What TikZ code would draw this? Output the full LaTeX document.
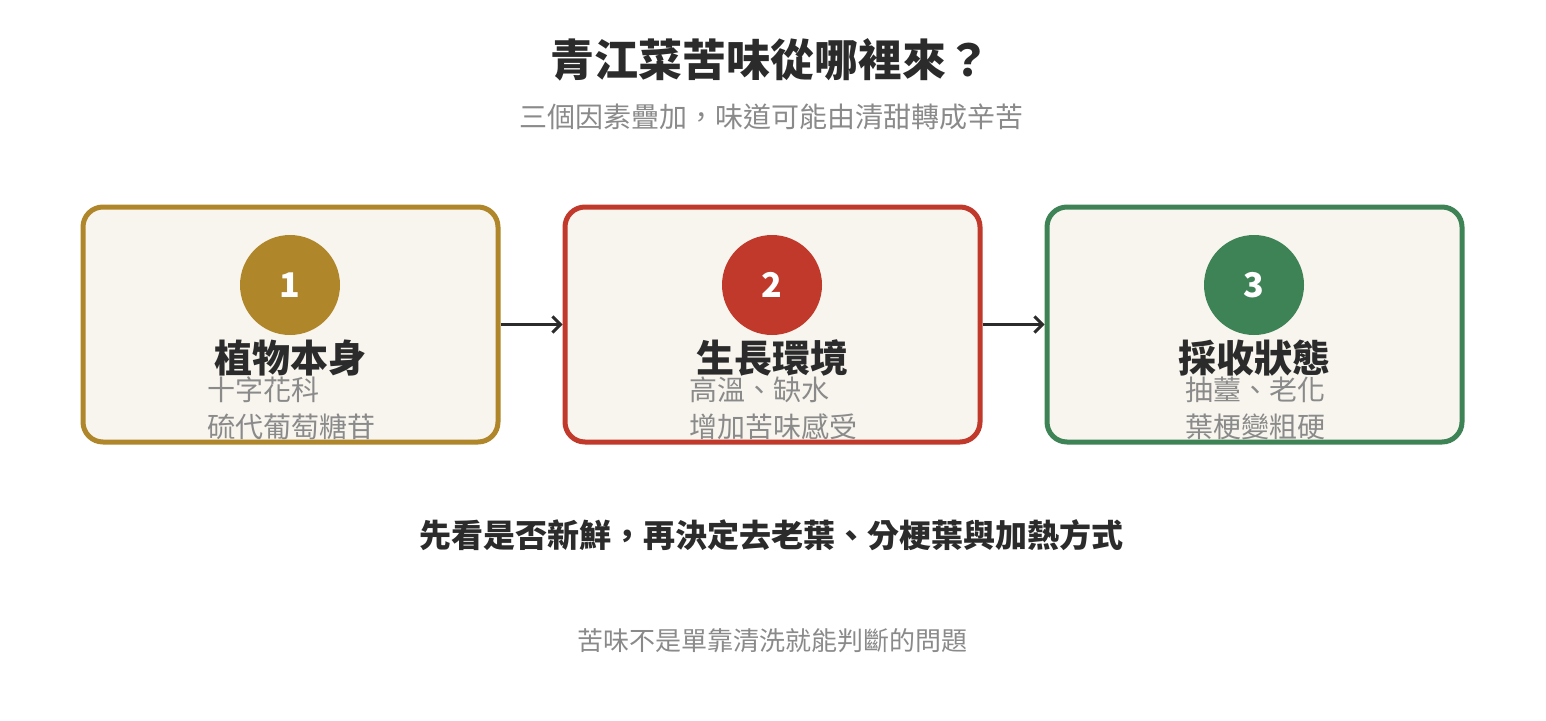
\documentclass[tikz,border=0pt]{standalone}
\usepackage{fontspec}
\setmainfont{Noto Sans CJK TC}
\usetikzlibrary{arrows.meta}
\begin{document}
\begin{tikzpicture}[x=1pt,y=-1pt,
  box/.style={draw=#1,line width=5pt,fill=boxfill,rounded corners=20pt},
  num/.style={circle,fill=#1,minimum size=100pt,inner sep=0pt,text=white,font=\fontsize{34}{34}\selectfont\bfseries},
  ttl/.style={font=\fontsize{38}{38}\selectfont\bfseries,text=dark,inner sep=0pt},
  sub/.style={font=\fontsize{28}{37}\selectfont,text=graytxt,inner sep=0pt,anchor=north west,align=left},
  arr/.style={draw=dark,line width=3pt,->,>={Straight Barb[length=8pt,width=16pt]}}]
\definecolor{boxfill}{HTML}{F8F5EE}
\definecolor{gold}{HTML}{B0862A}
\definecolor{red}{HTML}{C0392B}
\definecolor{green}{HTML}{3D8355}
\definecolor{dark}{HTML}{2B2B2B}
\definecolor{graytxt}{HTML}{8A8A8A}
\useasboundingbox[fill=white] (0,0) rectangle (1546,720);
\node[font=\fontsize{44}{44}\selectfont\bfseries,text=dark] (title) at (770,60) {青江菜苦味從哪裡來？};
\node[font=\fontsize{28}{28}\selectfont,text=graytxt] (subt) at (771,117) {三個因素疊加，味道可能由清甜轉成辛苦};
\node[box=gold,minimum width=415pt,minimum height=235pt,inner sep=0pt] (b1) at (290.5,324.5) {};
\node[box=red,minimum width=415pt,minimum height=235pt,inner sep=0pt] (b2) at (772.5,324.5) {};
\node[box=green,minimum width=415pt,minimum height=235pt,inner sep=0pt] (b3) at (1254.5,324.5) {};
\node[num=gold] (n1) at (290,285) {1};
\node[num=red] (n2) at (772,285) {2};
\node[num=green] (n3) at (1254,285) {3};
\node[sub] (s1) at (207,377) {十字花科\\硫代葡萄糖苷};
\node[sub] (s2) at (689,377) {高溫、缺水\\增加苦味感受};
\node[sub] (s3) at (1185,377) {抽薹、老化\\葉梗變粗硬};
\node[ttl] (t1) at (290,358) {植物本身};
\node[ttl] (t2) at (772,358) {生長環境};
\node[ttl] (t3) at (1254,358) {採收狀態};
\draw[arr] (b1.east) -- (b2.west);
\draw[arr] (b2.east) -- (b3.west);
\node[font=\fontsize{32}{32}\selectfont\bfseries,text=dark] (bottom) at (771,535) {先看是否新鮮，再決定去老葉、分梗葉與加熱方式};
\node[font=\fontsize{26}{26}\selectfont,text=graytxt] (foot) at (772,641) {苦味不是單靠清洗就能判斷的問題};
\end{tikzpicture}
\end{document}
